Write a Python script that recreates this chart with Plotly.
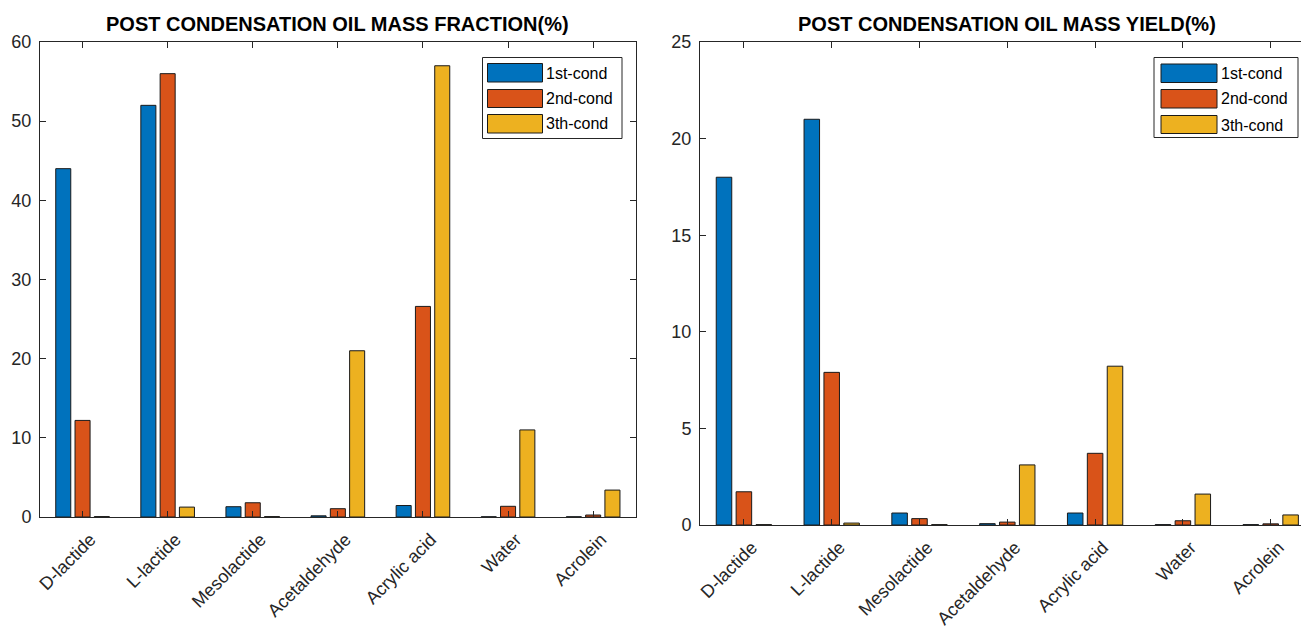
import plotly.graph_objects as go

# Compounds and condensation stages
categories = ["D-lactide", "L-lactide", "Mesolactide", "Acetaldehyde",
              "Acrylic acid", "Water", "Acrolein"]
stages = ["1st-cond", "2nd-cond", "3th-cond"]

# Post condensation oil mass fraction (%)
fraction_1st = [44.0, 52.0, 1.3, 0.15, 1.45, 0.03, 0.03]
fraction_2nd = [12.2, 56.0, 1.8, 1.05, 26.6, 1.35, 0.25]
fraction_3rd = [0.05, 1.25, 0.05, 21.0, 57.0, 11.0, 3.4]

# Post condensation oil mass yield (%)
yield_1st = [18.0, 21.0, 0.62, 0.07, 0.62, 0.02, 0.02]
yield_2nd = [1.72, 7.9, 0.33, 0.15, 3.71, 0.22, 0.06]
yield_3rd = [0.02, 0.1, 0.02, 3.11, 8.22, 1.6, 0.52]

fraction_ticks = [0, 10, 20, 30, 40, 50, 60]
yield_ticks = [0, 5, 10, 15, 20, 25]

colors = ["#0072BD", "#D95319", "#EDB120"]
axis_color = "#262626"
font_family = "Liberation Sans, Arial, Helvetica, sans-serif"

W, H = 1301, 631


def px(x):
    return x / W


def py(y):
    return 1 - y / H


fig = go.Figure()

idx = list(range(1, len(categories) + 1))
for name, vals, col in zip(stages, [fraction_1st, fraction_2nd, fraction_3rd], colors):
    fig.add_trace(go.Bar(x=idx, y=vals, name=name, marker_color=col,
                         marker_line_color="#1a1a1a", marker_line_width=1,
                         xaxis="x", yaxis="y", offsetgroup=name, showlegend=False))
for name, vals, col in zip(stages, [yield_1st, yield_2nd, yield_3rd], colors):
    fig.add_trace(go.Bar(x=idx, y=vals, name=name, marker_color=col,
                         marker_line_color="#1a1a1a", marker_line_width=1,
                         xaxis="x2", yaxis="y2", offsetgroup=name, showlegend=False))

tickfont = dict(family=font_family, size=18, color=axis_color)
common_x = dict(tickmode="array", tickvals=idx, ticktext=categories,
                tickangle=-45, ticks="inside", ticklen=6, tickcolor=axis_color,
                showline=True, linecolor=axis_color, linewidth=1,
                showgrid=False, zeroline=False, tickfont=tickfont,
                ticklabelshift=8, ticklabelstandoff=4, automargin=False)
common_y = dict(ticks="inside", ticklen=6, tickcolor=axis_color,
                showline=True, linecolor=axis_color, linewidth=1,
                showgrid=False, zeroline=False, tickfont=tickfont,
                ticklabelstandoff=4, automargin=False)

# Left panel: 40..635.7 px wide, 42..517 px tall
fig.update_layout(
    xaxis=dict(common_x, domain=[px(40), px(635.7)], range=[0.5, 7.5],
               anchor="y", mirror="ticks"),
    yaxis=dict(common_y, domain=[py(517), py(42)], range=[0, 60],
               tickvals=fraction_ticks, anchor="x", mirror="ticks"),
    # Right panel runs past the page edge; only the visible part is drawn
    xaxis2=dict(common_x, domain=[px(700), 1.0],
                range=[0.5, 0.5 + (W - 700) / ((1314.6 - 700) / 7)],
                anchor="y2", mirror="ticks"),
    yaxis2=dict(common_y, domain=[py(525), py(42)], range=[0, 25],
                tickvals=yield_ticks, anchor="x2", mirror=False),
)

annotations = []
shapes = []

# Panel titles
title_font = dict(family=font_family, size=20, color="#000000")
annotations.append(dict(text="<b>POST CONDENSATION OIL MASS FRACTION(%)</b>",
                        x=px(337.9), y=py(24), xref="paper", yref="paper",
                        showarrow=False, font=title_font, xanchor="center",
                        yanchor="middle"))
annotations.append(dict(text="<b>POST CONDENSATION OIL MASS YIELD(%)</b>",
                        x=px(1007.3), y=py(24), xref="paper", yref="paper",
                        showarrow=False, font=title_font, xanchor="center",
                        yanchor="middle"))


def add_legend(box, swatch_x, swatch_rows, text_x, text_rows):
    x0, y0, x1, y1 = box
    shapes.append(dict(type="rect", xref="paper", yref="paper",
                       x0=px(x0), x1=px(x1), y0=py(y1), y1=py(y0),
                       line=dict(color="#262626", width=1), fillcolor="white",
                       layer="above"))
    for (ya, yb), col in zip(swatch_rows, colors):
        shapes.append(dict(type="rect", xref="paper", yref="paper",
                           x0=px(swatch_x[0]), x1=px(swatch_x[1]),
                           y0=py(yb), y1=py(ya),
                           line=dict(color="#1a1a1a", width=1), fillcolor=col,
                           layer="above"))
    for ty, label in zip(text_rows, stages):
        annotations.append(dict(text=label, x=px(text_x), y=py(ty),
                                xref="paper", yref="paper", showarrow=False,
                                xanchor="left", yanchor="middle",
                                font=dict(family=font_family, size=16,
                                          color="#000000")))


add_legend((482.5, 57.5, 622, 138.5), (487.5, 542.5),
           [(63.5, 82), (89.5, 107.5), (114.5, 133)], 544, [73, 99, 124])
add_legend((1154, 57.5, 1298, 137.5), (1161, 1217),
           [(64, 82.5), (89.5, 108), (115.5, 133.5)], 1219, [73, 99, 125])

fig.update_layout(
    template="none",
    width=W, height=H,
    margin=dict(l=0, r=0, t=0, b=0, pad=0, autoexpand=False),
    barmode="group", bargap=0.32, bargroupgap=0.22,
    plot_bgcolor="white", paper_bgcolor="white",
    showlegend=False,
    annotations=annotations, shapes=shapes,
)

# Let the figure start at the top-left corner of the page
fig.write_html("out.html",
               post_script="document.body.style.margin='0';"
                           "document.body.style.overflow='hidden';")
